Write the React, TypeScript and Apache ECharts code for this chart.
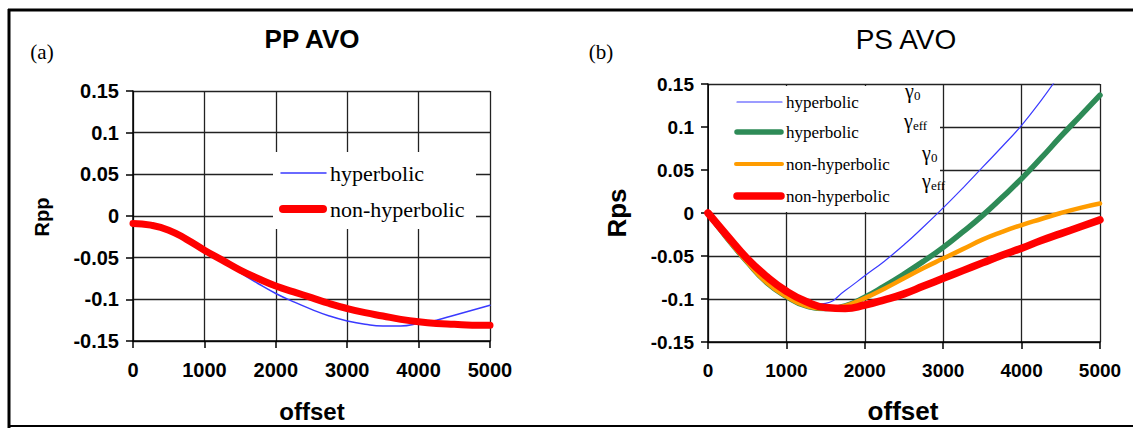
import React, { useEffect, useRef } from "react";
import * as echarts from "echarts";

// Offsets (x values) shared by all curves
const offsets = [0, 250, 500, 750, 1000, 1250, 1500, 1750, 2000, 2250, 2500, 2750, 3000, 3250, 3500, 3750, 4000, 4250, 4500, 4750, 5000];

// (a) PP AVO
const ppHyperbolic = [-0.009, -0.011, -0.017, -0.028, -0.041, -0.054, -0.068, -0.081, -0.093, -0.103, -0.112, -0.120, -0.126, -0.130, -0.132, -0.132, -0.129, -0.125, -0.119, -0.113, -0.107];
const ppNonHyperbolic = [-0.009, -0.011, -0.017, -0.028, -0.041, -0.053, -0.065, -0.075, -0.084, -0.091, -0.098, -0.105, -0.111, -0.116, -0.120, -0.124, -0.127, -0.129, -0.130, -0.131, -0.131];

// (b) PS AVO
const psHyperbolicG0 = [0, -0.029, -0.056, -0.080, -0.097, -0.107, -0.105, -0.090, -0.073, -0.056, -0.037, -0.016, 0.006, 0.029, 0.053, 0.077, 0.102, 0.131, 0.163];
const psHyperbolicGeff = [0, -0.030, -0.057, -0.081, -0.097, -0.108, -0.111, -0.108, -0.098, -0.085, -0.071, -0.056, -0.040, -0.022, -0.003, 0.018, 0.040, 0.064, 0.089, 0.113, 0.137];
const psNonHyperbolicG0 = [0, -0.030, -0.057, -0.081, -0.097, -0.108, -0.111, -0.108, -0.099, -0.088, -0.076, -0.064, -0.053, -0.042, -0.031, -0.022, -0.014, -0.007, 0.000, 0.006, 0.011];
const psNonHyperbolicGeff = [0, -0.027, -0.053, -0.074, -0.091, -0.103, -0.110, -0.111, -0.107, -0.101, -0.094, -0.085, -0.076, -0.067, -0.058, -0.049, -0.041, -0.032, -0.024, -0.016, -0.008];

const BLUE = "#3a3aff";
const RED = "#ff0000";
const GREEN = "#2e8b57";
const ORANGE = "#ff9c00";

const SANS = "'Liberation Sans', Arial, sans-serif";
const SERIF = "'Liberation Serif', 'Times New Roman', serif";

const pairs = (vals: number[]) => vals.map((v, i) => [offsets[i], v]);

function xAxisCfg(gridIndex: number, fontSize: number) {
  return {
    gridIndex,
    type: "value",
    min: 0,
    max: 5000,
    interval: 1000,
    axisLine: { show: true, onZero: false, lineStyle: { color: "#000", width: 1.5 } },
    axisTick: { show: true, inside: false, length: 7, lineStyle: { color: "#000", width: 1.5 } },
    axisLabel: {
      fontFamily: SANS,
      fontWeight: "bold",
      fontSize,
      color: "#000",
      margin: 19,
      formatter: (v: number) => String(Math.round(v)),
    },
    splitLine: { show: true, lineStyle: { color: "#222", width: 1.3 } },
  };
}

function yAxisCfg(gridIndex: number, fontSize: number) {
  return {
    gridIndex,
    type: "value",
    min: -0.15,
    max: 0.15,
    interval: 0.05,
    axisLine: { show: true, onZero: false, lineStyle: { color: "#000", width: 1.5 } },
    axisTick: { show: true, inside: false, length: 7, lineStyle: { color: "#000", width: 1.5 } },
    axisLabel: {
      fontFamily: SANS,
      fontWeight: "bold",
      fontSize,
      color: "#000",
      margin: 14,
      formatter: (v: number) => String(Math.round(v * 100) / 100),
    },
    splitLine: { show: true, lineStyle: { color: "#222", width: 1.3 } },
  };
}

function text(x: number, y: number, t: string, font: any, extra: any = {}) {
  return {
    type: "text",
    x,
    y,
    z: 5,
    ...extra,
    style: {
      text: t,
      fill: "#000",
      align: "center",
      verticalAlign: "middle",
      ...font,
    },
  };
}

function legendLine(x1: number, x2: number, y: number, color: string, width: number) {
  return {
    type: "line",
    z: 5,
    shape: { x1, y1: y, x2, y2: y },
    style: { stroke: color, lineWidth: width, lineCap: "round" },
  };
}

function legendText(x: number, y: number, t: string, size: number) {
  return text(x, y, t, { fontFamily: SERIF, fontSize: size, align: "left" });
}

function gamma(x: number, y: number, sub: string) {
  return [
    text(x, y, "γ", { fontFamily: SERIF, fontSize: 20, align: "left" }),
    text(x + 9, y + 4, sub, { fontFamily: SERIF, fontSize: 13, align: "left" }),
  ];
}

const lineSeries = (name: string, axis: number, vals: number[], color: string, width: number) => ({
  name,
  type: "line",
  xAxisIndex: axis,
  yAxisIndex: axis,
  data: pairs(vals),
  smooth: 0.5,
  symbol: "none",
  lineStyle: { color, width, cap: "round", join: "round" },
  itemStyle: { color },
});

export default function App() {
  const ref = useRef<HTMLDivElement>(null);

  useEffect(() => {
    if (!ref.current) return;
    const chart = echarts.init(ref.current, null, { renderer: "svg" });

    const graphic: any[] = [
      // frame
      { type: "line", z: 5, shape: { x1: 8, y1: 10, x2: 1133, y2: 10 }, style: { stroke: "#000", lineWidth: 3 } },
      { type: "line", z: 5, shape: { x1: 9, y1: 9, x2: 9, y2: 428 }, style: { stroke: "#000", lineWidth: 3 } },
      { type: "line", z: 5, shape: { x1: 8, y1: 426, x2: 1133, y2: 426 }, style: { stroke: "#000", lineWidth: 2 } },
      // panel letters and titles
      text(42, 52, "(a)", { fontFamily: SERIF, fontSize: 21 }),
      text(601, 52, "(b)", { fontFamily: SERIF, fontSize: 21 }),
      text(312, 39, "PP AVO", { fontFamily: SANS, fontWeight: "bold", fontSize: 26 }),
      text(906, 39, "PS AVO", { fontFamily: SANS, fontSize: 28 }),
      // axis names
      text(42, 217, "Rpp", { fontFamily: SANS, fontWeight: "bold", fontSize: 20 }, { rotation: Math.PI / 2 }),
      text(312, 411, "offset", { fontFamily: SANS, fontWeight: "bold", fontSize: 24 }),
      text(617, 213, "Rps", { fontFamily: SANS, fontWeight: "bold", fontSize: 26 }, { rotation: Math.PI / 2 }),
      text(903, 411, "offset", { fontFamily: SANS, fontWeight: "bold", fontSize: 26 }),
      // legend (a)
      { type: "rect", z: 1, shape: { x: 273, y: 152, width: 203, height: 77 }, style: { fill: "#fff" } },
      legendLine(281, 326, 173, BLUE, 1.5),
      legendText(330, 173, "hyperbolic", 22),
      legendLine(283, 323, 209, RED, 8),
      legendText(330, 209, "non-hyperbolic", 22),
      // legend (b)
      { type: "rect", z: 1, shape: { x: 709, y: 86, width: 231, height: 126 }, style: { fill: "#fff" } },
      legendLine(737, 782, 102, BLUE, 1.2),
      legendText(786, 102, "hyperbolic", 17),
      legendLine(737, 781, 132, GREEN, 5.5),
      legendText(786, 132, "hyperbolic", 17),
      legendLine(736, 782, 164, ORANGE, 4),
      legendText(786, 164, "non-hyperbolic", 17),
      legendLine(737, 781, 196, RED, 7.5),
      legendText(786, 196, "non-hyperbolic", 17),
      // gamma labels
      ...gamma(905, 91, "0"),
      ...gamma(904, 121, "eff"),
      ...gamma(922, 153, "0"),
      ...gamma(922, 181, "eff"),
    ];

    chart.setOption({
      animation: false,
      backgroundColor: "#fff",
      grid: [
        { left: 133, top: 91, width: 357, height: 250, containLabel: false },
        { left: 708, top: 84, width: 392, height: 258, containLabel: false },
      ],
      xAxis: [xAxisCfg(0, 20), xAxisCfg(1, 19)],
      yAxis: [yAxisCfg(0, 20), yAxisCfg(1, 19)],
      series: [
        lineSeries("hyperbolic", 0, ppHyperbolic, BLUE, 1.5),
        lineSeries("non-hyperbolic", 0, ppNonHyperbolic, RED, 7),
        lineSeries("hyperbolic γ0", 1, psHyperbolicG0, BLUE, 1.2),
        lineSeries("hyperbolic γeff", 1, psHyperbolicGeff, GREEN, 5.5),
        lineSeries("non-hyperbolic γ0", 1, psNonHyperbolicG0, ORANGE, 4.5),
        lineSeries("non-hyperbolic γeff", 1, psNonHyperbolicGeff, RED, 7.5),
      ],
      graphic,
    });

    return () => chart.dispose();
  }, []);

  return (
    <div
      ref={ref}
      style={{ position: "fixed", left: 0, top: 0, width: 1133, height: 428, background: "#fff" }}
    />
  );
}
